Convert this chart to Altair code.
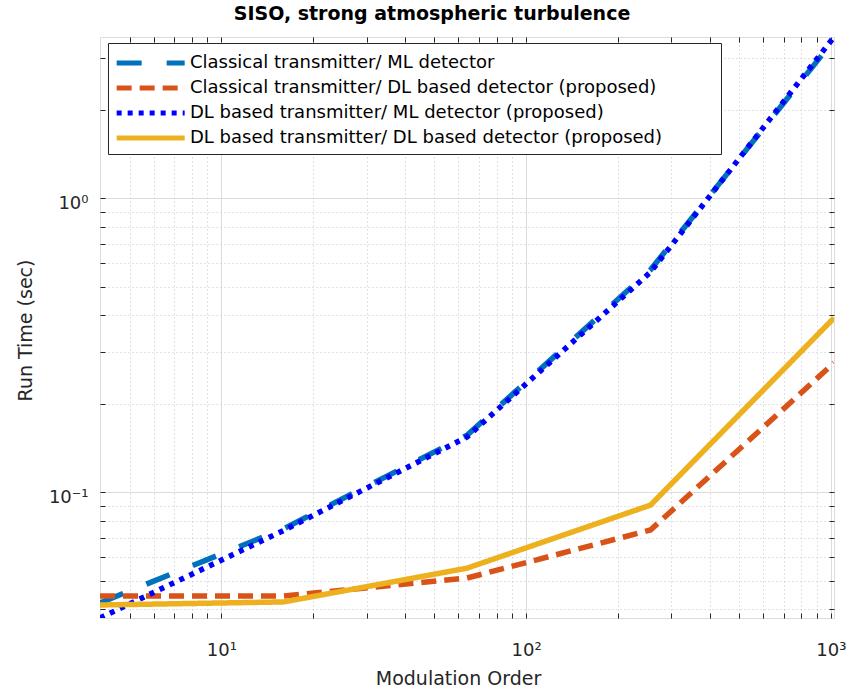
import altair as alt
import pandas as pd

# ---- data ----
mod_order = [4, 16, 64, 256, 1024]
series_names = [
    "Classical transmitter/ ML detector",
    "Classical transmitter/ DL based detector (proposed)",
    "DL based transmitter/ ML detector (proposed)",
    "DL based transmitter/ DL based detector (proposed)",
]
classical_ml = [0.042, 0.075, 0.156, 0.57, 3.45]
classical_dl = [0.0443, 0.0443, 0.051, 0.0743, 0.275]
dl_ml = [0.0373, 0.074, 0.154, 0.56, 3.53]
dl_dl = [0.0413, 0.0423, 0.0551, 0.0903, 0.391]

colors = ["#0072BD", "#D95319", "#0000FF", "#EDB120"]
dashes = [[25, 25], [15, 8], [5, 6], [1, 0]]

x_major = [10, 100, 1000]
x_minor = [5, 6, 7, 8, 9, 20, 30, 40, 50, 60, 70, 80, 90,
           200, 300, 400, 500, 600, 700, 800, 900]
y_major = [0.1, 1]
y_minor = [0.04, 0.05, 0.06, 0.07, 0.08, 0.09,
           0.2, 0.3, 0.4, 0.5, 0.6, 0.7, 0.8, 0.9, 2, 3]

rows = []
for name, vals in zip(series_names, [classical_ml, classical_dl, dl_ml, dl_dl]):
    for xv, yv in zip(mod_order, vals):
        rows.append({"series": name, "x": xv, "y": yv})
df = pd.DataFrame(rows)

FONT = "DejaVu Sans"
TXT = "#262626"

xs = alt.Scale(type="log", domain=[4, 1024], nice=False)
ys = alt.Scale(type="log", domain=[0.0373, 3.53], nice=False)

x_vals = sorted(x_major + x_minor)
y_vals = sorted(y_major + y_minor)

x_is_major = "indexof([10,100,1000], datum.value) >= 0"
y_is_major = "indexof([0.1,1], datum.value) >= 0"

main_x = alt.Axis(
    values=x_vals,
    title="Modulation Order",
    titleFont=FONT, titleFontSize=19, titleFontWeight="normal", titleColor=TXT,
    titleX=358, titleY=60, titleBaseline="middle", titleAnchor="start", titleAlign="center",
    labelExpr="datum.value == 10 ? '10¹' : datum.value == 100 ? '10²' : datum.value == 1000 ? '10³' : ''",
    labelFont=FONT, labelFontSize=18, labelColor=TXT, labelPadding=23,
    labelFlush=False, labelOverlap=False,
    ticks=False, tickSize=0, domain=False,
    grid=True,
    gridColor={"condition": {"test": x_is_major, "value": "#dcdcdc"}, "value": "#c4c4c4"},
    gridDash={"condition": {"test": x_is_major, "value": []}, "value": [1, 3]},
    gridWidth=1,
)
main_y = alt.Axis(
    values=y_vals,
    title="Run Time (sec)",
    titleFont=FONT, titleFontSize=19, titleFontWeight="normal", titleColor=TXT,
    titleAngle=-90, titleX=-75, titleY=293, titleAlign="center", titleBaseline="middle",
    titleAnchor="start",
    labelExpr="datum.value == 1 ? '10⁰' : datum.value == 0.1 ? '10⁻¹' : ''",
    labelFont=FONT, labelFontSize=18, labelColor=TXT, labelPadding=12,
    labelFlush=False, labelOverlap=False, labelOffset=5,
    ticks=False, tickSize=0, domain=False,
    grid=True,
    gridColor={"condition": {"test": y_is_major, "value": "#dcdcdc"}, "value": "#c4c4c4"},
    gridDash={"condition": {"test": y_is_major, "value": []}, "value": [1, 3]},
    gridWidth=1,
)

TK = 5


def tick_axis(vals, orient):
    return alt.Axis(values=vals, orient=orient, offset=-TK, tickSize=TK, ticks=True,
                    tickColor=TXT, tickWidth=1, labels=False, domain=False,
                    grid=False, title=None)


legend = alt.Legend(
    title=" ", titleOrient="right", titlePadding=53, titleFontSize=10,
    orient="none", legendX=8, legendY=6,
    symbolType="M-1,0H5", symbolSize=514, symbolStrokeWidth=5,
    labelFont=FONT, labelFontSize=18, labelColor="#000000", labelLimit=800,
    labelOffset=48,
    padding=6, rowPadding=1, symbolOffset=0,
    fillColor="white", strokeColor="#262626",
)

lines = alt.Chart(df).mark_line(strokeWidth=5.5, clip=True).encode(
    x=alt.X("x:Q", scale=xs, axis=main_x),
    y=alt.Y("y:Q", scale=ys, axis=main_y),
    color=alt.Color("series:N", sort=series_names,
                    scale=alt.Scale(domain=series_names, range=colors), legend=legend),
    strokeDash=alt.StrokeDash("series:N", sort=series_names,
                              scale=alt.Scale(domain=series_names, range=dashes), legend=legend),
    detail="series:N",
)

ticks_a = alt.Chart(df).mark_point(opacity=0).encode(
    x=alt.X("x:Q", scale=xs, axis=tick_axis(x_vals, "bottom")),
    y=alt.Y("y:Q", scale=ys, axis=tick_axis(y_vals, "left")),
)
ticks_b = alt.Chart(df).mark_point(opacity=0).encode(
    x=alt.X("x:Q", scale=xs, axis=tick_axis(x_vals, "top")),
    y=alt.Y("y:Q", scale=ys, axis=tick_axis(y_vals, "right")),
)

chart = alt.layer(lines, ticks_a, ticks_b).resolve_axis(
    x="independent", y="independent"
).properties(
    width=734, height=581,
    autosize=alt.AutoSizeParams(type="none"),
    padding={"left": 100, "top": 37, "right": 30, "bottom": 71},
    title=alt.TitleParams(
        "SISO, strong atmospheric turbulence",
        font=FONT, fontSize=19, fontWeight="bold", color="#000000",
        anchor="middle", dx=-35, offset=10,
    ),
).configure_view(stroke="#262626", strokeWidth=1).configure(background="white")

chart.save("out.html", embed_options={"renderer": "svg", "actions": False})
